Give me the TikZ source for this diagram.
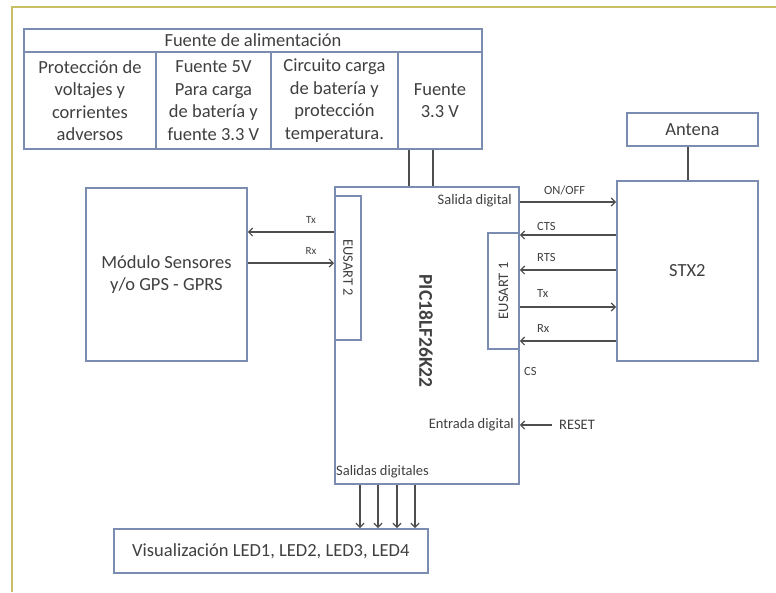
\documentclass[tikz,border=0pt]{standalone}
\usepackage{fontspec}
\setmainfont{Carlito}
\usetikzlibrary{arrows.meta}
\definecolor{boxc}{RGB}{122,140,176}
\definecolor{txt}{RGB}{64,64,64}
\definecolor{arrc}{RGB}{78,78,78}
\definecolor{framec}{RGB}{200,190,100}
\newcommand{\bigf}{\fontsize{18.5}{22.5}\selectfont}
\newcommand{\midf}{\fontsize{14.5}{17}\selectfont}
\newcommand{\smf}{\fontsize{12.5}{15}\selectfont}
\newcommand{\tinyf}{\fontsize{11}{13}\selectfont}
\begin{document}
\begin{tikzpicture}[x=1pt,y=-1pt,
  box/.style={draw=boxc, line width=1.8pt, inner sep=0pt, text=txt, align=center, font=\bigf, anchor=north west},
  lbl/.style={inner sep=0pt, text=txt},
  arr/.style={draw=arrc, line width=1.2pt, -{Straight Barb[length=4pt,width=8pt]}},
  wire/.style={draw=arrc, line width=1.2pt}]
\useasboundingbox (0,0) rectangle (776,592);
\fill[white] (0,0) rectangle (776,592);
% frame
\draw[framec, line width=2pt] (12,592) -- (12,7) -- (776,7);
% power supply
\node[box, minimum width=458pt, minimum height=23pt] (hdr) at (23,28) {Fuente de alimentación};
\node[box, minimum width=132pt, minimum height=97pt] (c1) at (23,51) {Protección de\\voltajes y\\corrientes\\adversos};
\node[box, minimum width=115pt, minimum height=97pt] (c2) at (155,51) {Fuente 5V\\Para carga\\de batería y\\fuente 3.3 V};
\node[box, minimum width=127pt, minimum height=97pt] (c3) at (270,51) {Circuito carga\\de batería y\\protección\\temperatura.};
\node[box, minimum width=84pt, minimum height=97pt] (c4) at (397,51) {Fuente\\3.3 V};
% PIC
\node[box, minimum width=184pt, minimum height=297pt] (pic) at (334,186) {};
\node[box, minimum width=26pt, minimum height=144pt] (eu2) at (334,195) {};
\node[box, minimum width=31pt, minimum height=116pt] (eu1) at (487,232) {};
\node[lbl, rotate=-90, font=\midf] (eu2t) at (eu2.center) {EUSART 2};
\node[lbl, rotate=90, font=\midf] (eu1t) at (eu1.center) {EUSART 1};
\node[lbl, rotate=-90, font=\fontsize{19.5}{22}\selectfont\bfseries] (pict) at (426,331) {PIC18LF26K22};
\node[lbl, font=\midf, anchor=east] (sd) at (512,201) {Salida digital};
\node[lbl, font=\midf, anchor=east] (ed) at (514,425) {Entrada digital};
\node[lbl, font=\midf, anchor=west] (sds) at (336,472) {Salidas digitales};
% module
\node[box, minimum width=161pt, minimum height=173pt] (mod) at (85,187) {Módulo Sensores\\y/o GPS - GPRS};
% STX2
\node[box, minimum width=141pt, minimum height=180pt] (stx) at (616,180) {STX2};
\node[box, minimum width=131pt, minimum height=33pt] (ant) at (626,112) {Antena};
% LED
\node[box, minimum width=314pt, minimum height=44pt] (led) at (113,528) {Visualización LED1, LED2, LED3, LED4};
% power wires
\draw[wire] (c4.south -| 409,0) -- (pic.north -| 409,0);
\draw[wire] (c4.south -| 433,0) -- (pic.north -| 433,0);
% antenna
\draw[wire] (ant.south -| 688,0) -- (stx.north -| 688,0);
% left side
\draw[arr] (eu2.west |- 0,232) -- (mod.east |- 0,232);
\draw[arr] (mod.east |- 0,263) -- (eu2.west |- 0,263);
\node[lbl, font=\tinyf] (ltx) at (311,220) {Tx};
\node[lbl, font=\tinyf] (lrx) at (311,251) {Rx};
% right side
\draw[arr] (pic.east |- 0,202) -- (stx.west |- 0,202);
\draw[arr] (stx.west |- 0,235) -- (pic.east |- 0,235);
\draw[arr] (stx.west |- 0,270) -- (pic.east |- 0,270);
\draw[arr] (pic.east |- 0,307) -- (stx.west |- 0,307);
\draw[arr] (stx.west |- 0,341) -- (pic.east |- 0,341);
\node[lbl, font=\smf, anchor=west] (onoff) at (544,190) {ON/OFF};
\node[lbl, font=\smf, anchor=west] (cts) at (537,226) {CTS};
\node[lbl, font=\smf, anchor=west] (rts) at (537,257) {RTS};
\node[lbl, font=\smf, anchor=west] (rtx) at (537,293) {Tx};
\node[lbl, font=\smf, anchor=west] (rrx) at (537,328) {Rx};
\node[lbl, font=\smf, anchor=west] (cs) at (524,371) {CS};
% reset
\coordinate (rst) at (552,425);
\draw[arr] (rst) -- (pic.east |- rst);
\node[lbl, font=\midf, anchor=west] (rsttxt) at (559,425) {RESET};
% LED arrows
\foreach \xx in {360,378,397,415}{
  \draw[arr] (pic.south -| \xx,0) -- (led.north -| \xx,0);
}
\end{tikzpicture}
\end{document}
